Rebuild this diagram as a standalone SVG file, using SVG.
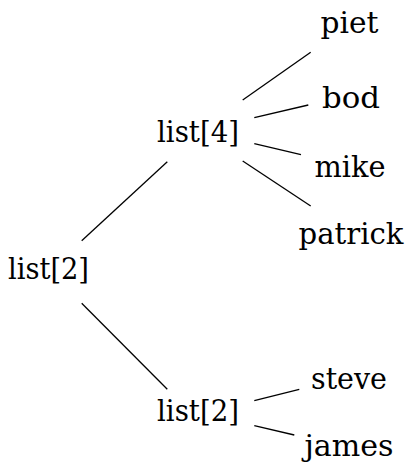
<svg xmlns="http://www.w3.org/2000/svg" width="408" height="475" viewBox="0 0 408 475">
<style>
text{font-size:29px;fill:#000;text-anchor:middle}
.e line{stroke:#000;stroke-width:1.3;stroke-linecap:butt}
</style>
<rect width="408" height="475" fill="#fff"/>
<g class="e" id="connectors">
<line x1="81.7" y1="240.7" x2="167.3" y2="161.7"/>
<line x1="81.7" y1="303.3" x2="167.3" y2="389.3"/>
<line x1="242.7" y1="100" x2="310.7" y2="52.3"/>
<line x1="254.3" y1="117.7" x2="308.3" y2="105"/>
<line x1="254.3" y1="143.7" x2="301" y2="154.7"/>
<line x1="242.7" y1="161" x2="310.7" y2="206"/>
<line x1="254.3" y1="400.7" x2="299.3" y2="389.3"/>
<line x1="254.3" y1="425.7" x2="294.3" y2="435"/>
</g>
<g font-family="'DejaVu Serif', 'Liberation Serif', 'Times New Roman', serif">
<g id="root"><text x="48.5" y="279" textLength="81" lengthAdjust="spacingAndGlyphs">list[2]</text></g>
<g id="list4"><text x="198" y="141.7" textLength="82" lengthAdjust="spacingAndGlyphs">list[4]</text></g>
<g id="list2b"><text x="198" y="421" textLength="82" lengthAdjust="spacingAndGlyphs">list[2]</text></g>
<g id="piet"><text x="349.5" y="33" textLength="58" lengthAdjust="spacingAndGlyphs">piet</text></g>
<g id="bod"><text x="351" y="108.3" textLength="58" lengthAdjust="spacingAndGlyphs">bod</text></g>
<g id="mike"><text x="350" y="177" textLength="71" lengthAdjust="spacingAndGlyphs">mike</text></g>
<g id="patrick"><text x="351" y="244" textLength="105" lengthAdjust="spacingAndGlyphs">patrick</text></g>
<g id="steve"><text x="349" y="389" textLength="76" lengthAdjust="spacingAndGlyphs">steve</text></g>
<g id="james"><text x="349" y="455.7" textLength="89" lengthAdjust="spacingAndGlyphs">james</text></g>
</g>
</svg>
